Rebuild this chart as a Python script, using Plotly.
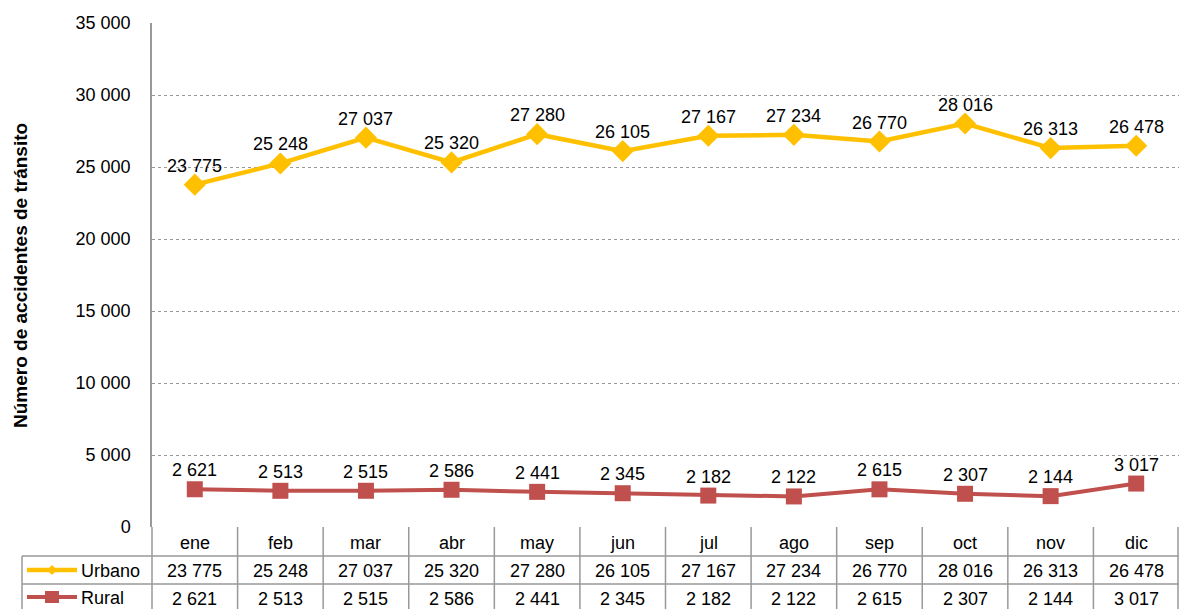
import plotly.graph_objects as go

months = ["ene", "feb", "mar", "abr", "may", "jun", "jul", "ago", "sep", "oct", "nov", "dic"]
urbano = [23775, 25248, 27037, 25320, 27280, 26105, 27167, 27234, 26770, 28016, 26313, 26478]
rural = [2621, 2513, 2515, 2586, 2441, 2345, 2182, 2122, 2615, 2307, 2144, 3017]
series_names = ["Urbano", "Rural"]
y_ticks = [0, 5000, 10000, 15000, 20000, 25000, 30000, 35000]

W, H = 1179, 609
YELLOW = "#FFC000"
RED = "#C0504D"
GRID = "#999999"
FONT = "Liberation Sans, Arial, sans-serif"
FS = 18


def fmt(v):
    return f"{v:,}".replace(",", " ")


def px(x):
    return x / W


def py(y):
    return 1 - y / H


plot_left, plot_right = 152, 1179
plot_top, plot_bottom = 23, 527
row1, row2, row3 = 556, 584, 612
table_left = 22

fig = go.Figure()
x_idx = list(range(len(months)))
fig.add_trace(go.Scatter(
    x=x_idx, y=urbano, mode="lines+markers", name=series_names[0],
    line=dict(color=YELLOW, width=4.5),
    marker=dict(symbol="diamond", size=17, color=YELLOW),
    cliponaxis=False, hoverinfo="skip",
))
fig.add_trace(go.Scatter(
    x=x_idx, y=rural, mode="lines+markers", name=series_names[1],
    line=dict(color=RED, width=4),
    marker=dict(symbol="square", size=16, color=RED),
    cliponaxis=False, hoverinfo="skip",
))

shapes = []
annotations = []

# data labels
for series in (urbano, rural):
    for i, v in enumerate(series):
        annotations.append(dict(x=i, y=v, xref="x", yref="y", text=fmt(v), showarrow=False,
                                xanchor="center", yanchor="middle", yshift=19,
                                font=dict(size=FS, family=FONT, color="black")))

lc = dict(color=GRID, width=1.5)
for yy in (row1, row2):
    shapes.append(dict(type="line", xref="paper", yref="paper", x0=px(table_left), x1=px(plot_right),
                       y0=py(yy), y1=py(yy), line=lc))
shapes.append(dict(type="line", xref="paper", yref="paper", x0=px(table_left), x1=px(table_left),
                   y0=py(row1), y1=py(H), line=lc))
colw = (plot_right - plot_left) / len(months)
for i in range(len(months) + 1):
    xx = plot_left + i * colw
    if i == len(months):
        xx -= 1
    shapes.append(dict(type="line", xref="paper", yref="paper", x0=px(xx), x1=px(xx),
                       y0=py(plot_bottom), y1=py(H), line=lc))

def ann(x, y, text, xanchor="center", size=FS):
    annotations.append(dict(x=px(x), y=py(y), xref="paper", yref="paper", text=text,
                            xanchor=xanchor, yanchor="middle", showarrow=False,
                            font=dict(size=size, family=FONT, color="black")))

for i, m in enumerate(months):
    cx = plot_left + (i + 0.5) * colw
    ann(cx, (plot_bottom + row1) / 2 + 1, m)
    ann(cx, (row1 + row2) / 2 + 1, fmt(urbano[i]))
    ann(cx, (row2 + row3) / 2 + 1, fmt(rural[i]))

for name, yy, col, w in ((series_names[0], (row1 + row2) / 2, YELLOW, 4.5), (series_names[1], (row2 + row3) / 2 - 1, RED, 4)):
    shapes.append(dict(type="line", xref="paper", yref="paper", x0=px(27), x1=px(77),
                       y0=py(yy), y1=py(yy), line=dict(color=col, width=w)))
    ann(79, yy + 1, name, xanchor="left")
ux, uy = 52, (row1 + row2) / 2
shapes.append(dict(type="path", xref="paper", yref="paper",
                   path=f"M {px(ux-5)} {py(uy)} L {px(ux)} {py(uy-5)} L {px(ux+5)} {py(uy)} L {px(ux)} {py(uy+5)} Z",
                   fillcolor=YELLOW, line=dict(color=YELLOW, width=0)))
rx, ry = 52, (row2 + row3) / 2 - 1
shapes.append(dict(type="rect", xref="paper", yref="paper", x0=px(rx-7), x1=px(rx+7), y0=py(ry+6), y1=py(ry-6),
                   fillcolor=RED, line=dict(color=RED, width=0)))

annotations.append(dict(x=px(20), y=py(276), xref="paper", yref="paper",
                        text="<b>Número de accidentes de tránsito</b>", textangle=-90, showarrow=False,
                        xanchor="center", yanchor="middle",
                        font=dict(size=19, family=FONT, color="black")))

fig.update_layout(
    width=W, height=H,
    margin=dict(l=0, r=0, t=0, b=0, autoexpand=False),
    paper_bgcolor="white", plot_bgcolor="white",
    showlegend=False,
    hovermode=False,
    font=dict(family=FONT, size=FS, color="black"),
    xaxis=dict(domain=[px(plot_left), px(plot_right)], range=[-0.5, len(months) - 0.5],
               showticklabels=False, showgrid=False, zeroline=False, showline=False, fixedrange=True),
    yaxis=dict(domain=[py(plot_bottom), py(plot_top)], range=[0, 35000], tickvals=y_ticks,
               ticktext=[fmt(v) for v in y_ticks], showgrid=True, gridcolor="#999999", griddash="dot",
               gridwidth=1, zeroline=False, showline=True, linecolor=GRID, linewidth=1.5, fixedrange=True,
               ticks="", ticklabelstandoff=16, tickfont=dict(size=FS, family=FONT, color="black")),
    shapes=shapes,
    annotations=annotations,
)

fig.write_html("out.html", config={"displayModeBar": False},
               post_script="document.body.style.margin='0';document.body.style.overflow='hidden';")
